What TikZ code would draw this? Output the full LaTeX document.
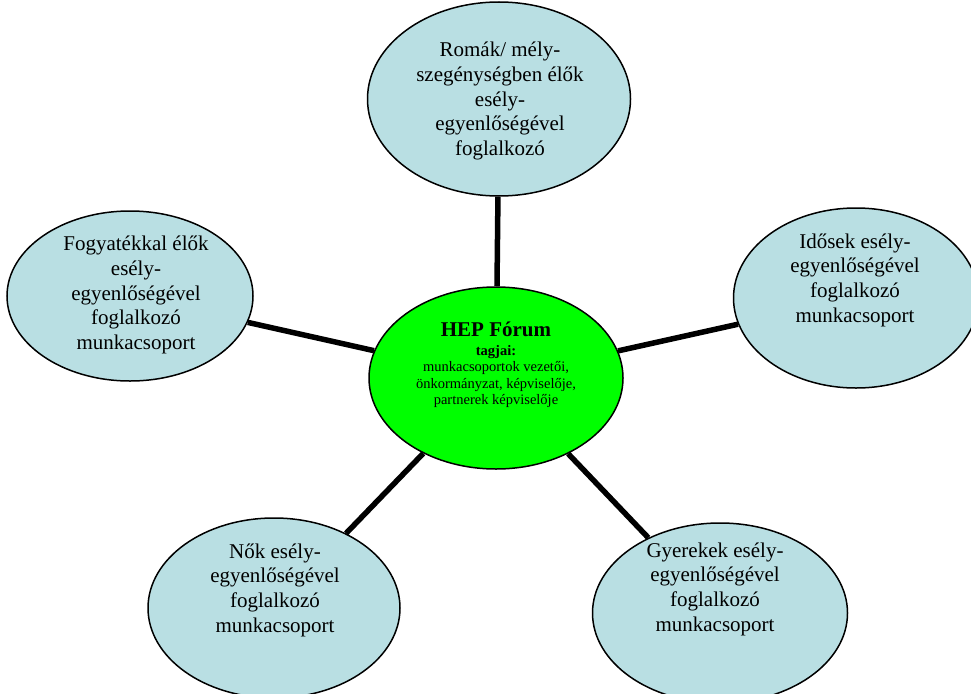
\documentclass[tikz,border=0pt]{standalone}
\usepackage{fontspec}
\setmainfont{Liberation Serif}
\usetikzlibrary{shapes.geometric}
\definecolor{groupblue}{RGB}{185,223,227}
\definecolor{forumgreen}{RGB}{0,255,0}
\tikzset{
  group/.style={ellipse,draw,line width=1.5pt,fill=groupblue,inner sep=0pt},
  grouptext/.style={align=center,inner sep=0pt,font=\fontsize{21}{24.7}\selectfont},
  link/.style={line width=5.5pt}
}
\begin{document}
\begin{tikzpicture}[x=1pt,y=-1pt]
    \useasboundingbox (0,0) rectangle (971,693);
    \clip (0,0) rectangle (971,693);

    \node[group,fill=forumgreen,minimum width=254pt,minimum height=182pt](hep) at (496,378){};
    \node[group,minimum width=263pt,minimum height=194pt](roma) at (499,99){};
    \node[group,minimum width=246pt,minimum height=170pt](fogy) at (130,296){};
    \node[group,minimum width=245pt,minimum height=180pt](ido) at (856,298){};
    \node[group,minimum width=252pt,minimum height=180pt](nok) at (274,608){};
    \node[group,minimum width=255pt,minimum height=180pt](gyer) at (720,613){};

    \path[link] (hep) edge (roma)
    (hep) edge (fogy)
    (hep) edge (ido)
    (hep) edge (nok)
    (hep) edge (gyer);

    \node[grouptext](romaT) at (500,101){Romák/ mély-\\szegénységben élők\\esély-\\egyenlőségével\\foglalkozó};
    \node[grouptext](fogyT) at (136,295){Fogyatékkal élők\\esély-\\egyenlőségével\\foglalkozó\\munkacsoport};
    \node[grouptext](idoT) at (855,280){Idősek esély-\\egyenlőségével\\foglalkozó\\munkacsoport};
    \node[grouptext](nokT) at (275,590){Nők esély-\\egyenlőségével\\foglalkozó\\munkacsoport};
    \node[grouptext](gyerT) at (715,589){Gyerekek esély-\\egyenlőségével\\foglalkozó\\munkacsoport};
    \node[align=center,inner sep=0pt,font=\fontsize{14.5}{16.5}\selectfont](hepT) at (496,365){{\fontsize{21}{22}\selectfont\bfseries HEP Fórum}\\[2pt]
    \textbf{tagjai:}\\munkacsoportok vezetői,\\önkormányzat, képviselője,\\partnerek képviselője};

\end{tikzpicture}
\end{document}
